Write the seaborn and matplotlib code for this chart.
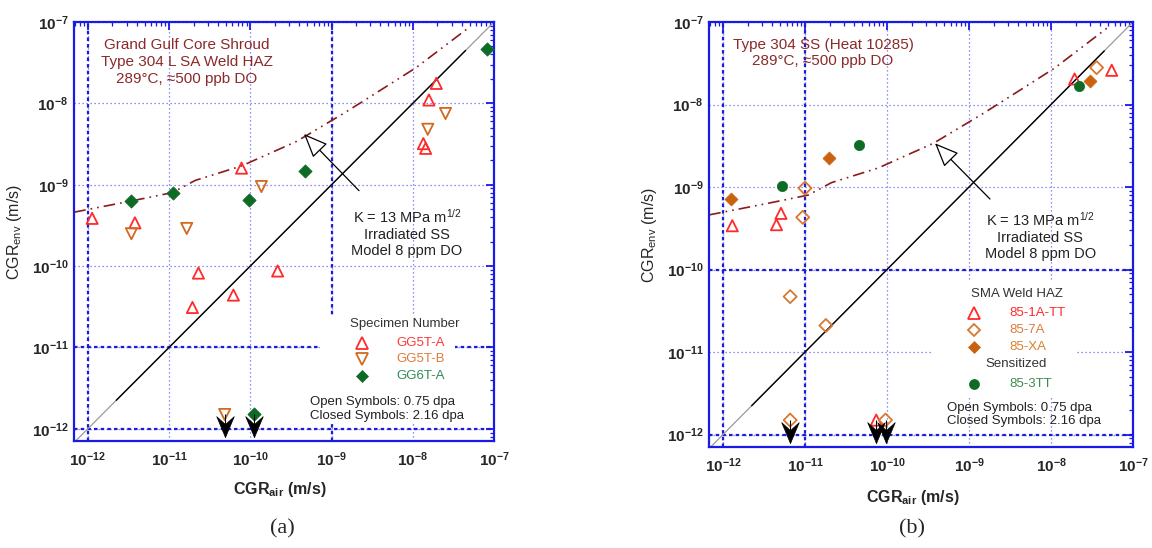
import numpy as np
import matplotlib
matplotlib.use("Agg")
import matplotlib.pyplot as plt
import seaborn as sns
from matplotlib.ticker import LogLocator, NullFormatter
from matplotlib.patches import Rectangle
from matplotlib.path import Path

# ---------------- data ----------------
# Panel (a): Grand Gulf core shroud
a_gg5ta_x = [1.13e-12, 3.8e-12, 7.8e-11, 2.3e-11, 2.17e-10, 1.94e-11, 6.2e-11, 1.95e-8, 1.58e-8, 1.35e-8, 1.44e-8]
a_gg5ta_y = [3.86e-10, 3.4e-10, 1.6e-9, 8.2e-11, 8.7e-11, 3.1e-11, 4.4e-11, 1.76e-8, 1.1e-8, 3.2e-9, 2.8e-9]
a_gg5tb_x = [3.44e-12, 1.65e-11, 1.37e-10, 1.53e-8, 2.53e-8, 4.84e-11]
a_gg5tb_y = [2.5e-10, 2.9e-10, 9.5e-10, 4.8e-9, 7.5e-9, 1.5e-12]
a_gg6ta_x = [3.44e-12, 1.12e-11, 9.55e-11, 4.77e-10, 8.1e-8, 1.1e-10]
a_gg6ta_y = [6.25e-10, 8.0e-10, 6.45e-10, 1.46e-9, 4.7e-8, 1.5e-12]

# Panel (b): Type 304 SS (Heat 10285)
b_1a_x = [1.3e-12, 5.1e-12, 4.5e-12, 1.94e-8, 5.5e-8, 7.4e-11]
b_1a_y = [3.4e-10, 4.8e-10, 3.5e-10, 2.04e-8, 2.6e-8, 1.5e-12]
b_7a_x = [1.0e-11, 9.4e-12, 3.6e-8, 6.6e-12, 1.8e-11, 6.6e-12, 9.6e-11]
b_7a_y = [9.7e-10, 4.3e-10, 2.8e-8, 4.7e-11, 2.1e-11, 1.5e-12, 1.5e-12]
b_xa_x = [1.24e-12, 1.98e-11, 3.0e-8]
b_xa_y = [7.1e-10, 2.24e-9, 1.93e-8]
b_3tt_x = [5.3e-12, 4.6e-11, 2.2e-8]
b_3tt_y = [1.03e-9, 3.2e-9, 1.68e-8]

# Model curve: K = 13 MPa m^1/2, irradiated SS, 8 ppm DO
model_x = [6.8e-13, 3.4e-12, 1.1e-11, 2.1e-11, 7.8e-11, 3.7e-10, 1.4e-9, 2.4e-9, 1.1e-8, 5.1e-8]
model_y = [4.6e-10, 6.3e-10, 8.0e-10, 1.13e-9, 1.7e-9, 3.4e-9, 7.5e-9, 1.05e-8, 2.75e-8, 8.8e-8]

decades = [1e-12, 1e-11, 1e-10, 1e-9, 1e-8, 1e-7]
decade_labels = [r"$\mathbf{10^{-12}}$", r"$\mathbf{10^{-11}}$", r"$\mathbf{10^{-10}}$",
                 r"$\mathbf{10^{-9}}$", r"$\mathbf{10^{-8}}$", r"$\mathbf{10^{-7}}$"]

# ---------------- style ----------------
sns.set_style("white")
plt.rcParams["font.family"] = ["Liberation Sans", "DejaVu Sans"]
plt.rcParams["mathtext.fontset"] = "custom"
plt.rcParams["mathtext.rm"] = "Liberation Sans"
plt.rcParams["mathtext.it"] = "Liberation Sans:italic"
plt.rcParams["mathtext.bf"] = "Liberation Sans:bold"

RED = "#ff2a2a"
ORANGE = "#d2691e"
ORANGE2 = "#d8782e"
ORANGE_F = "#c8620e"
GREEN = "#0e6b26"
TITLE_C = "#8b2a2a"
CURVE_C = "#8b1a1a"
BLUE = "#1a1ae6"
GRID_C = "#6a6af2"
GRID_THICK = "#1c1cd8"

fig = plt.figure(figsize=(11.52, 5.48), dpi=100)
axA = fig.add_axes([74 / 1152, 1 - 441 / 548, 420 / 1152, 419 / 548])
axB = fig.add_axes([709 / 1152, 1 - 447 / 548, 424 / 1152, 425 / 548])

XLO, XHI = 10 ** -12.17, 1e-7
YLO, YHI = 10 ** -12.15, 1e-7


def setup_axes(ax, thick_x, thick_y):
    ax.set_xscale("log")
    ax.set_yscale("log")
    ax.set_xlim(XLO, XHI)
    ax.set_ylim(YLO, YHI)
    ax.set_xticks(decades)
    ax.set_xticklabels(decade_labels, fontsize=11)
    ax.set_yticks(decades)
    ax.set_yticklabels(decade_labels, fontsize=11)
    ax.xaxis.set_minor_locator(LogLocator(base=10, subs=np.arange(2, 10), numticks=30))
    ax.yaxis.set_minor_locator(LogLocator(base=10, subs=np.arange(2, 10), numticks=30))
    ax.xaxis.set_minor_formatter(NullFormatter())
    ax.yaxis.set_minor_formatter(NullFormatter())
    ax.tick_params(which="both", direction="in", top=True, right=True, color=BLUE)
    ax.tick_params(which="major", length=6, width=1.3)
    ax.tick_params(which="minor", length=3, width=0.9)
    ax.tick_params(axis="x", which="major", pad=7)
    ax.tick_params(axis="y", which="major", pad=4)
    for sp in ax.spines.values():
        sp.set_color(BLUE)
        sp.set_linewidth(1.6)
    ax.grid(True, which="major", ls=(0, (1, 2.2)), color=GRID_C, lw=0.9, zorder=0.5)
    ax.set_axisbelow(True)
    for v in thick_x:
        ax.axvline(v, ls=(0, (1.6, 1.4)), color=GRID_THICK, lw=1.6, zorder=0.6)
    for v in thick_y:
        ax.axhline(v, ls=(0, (1.6, 1.4)), color=GRID_THICK, lw=1.6, zorder=0.6)


setup_axes(axA, [1e-12, 1e-9], [1e-11, 1e-12])
setup_axes(axB, [1e-12, 1e-11], [1e-10, 1e-12])

# white legend backgrounds (interrupt the grid like in the reference)
axA.add_patch(Rectangle((0.586, 0.04), 0.321, 0.26, transform=axA.transAxes,
                        facecolor="white", edgecolor="none", zorder=0.9))
axB.add_patch(Rectangle((0.528, 0.115), 0.34, 0.273, transform=axB.transAxes,
                        facecolor="white", edgecolor="none", zorder=0.9))

# 1:1 line and model curve
diag_full = [XLO, XHI]
diag_dark = [10 ** -11.65, 10 ** -7.35]
for ax in (axA, axB):
    sns.lineplot(x=diag_full, y=diag_full, ax=ax, color="#9a9a9a", lw=0.9, zorder=2)
    sns.lineplot(x=diag_dark, y=diag_dark, ax=ax, color="black", lw=1.0, zorder=2.1)
    sns.lineplot(x=model_x, y=model_y, ax=ax, color=CURVE_C, lw=1.2, sort=False,
                 estimator=None, linestyle=(0, (7, 3, 1, 3, 1, 3)), zorder=2.2)

TIP = 10 ** -12.1
# swept-back arrowhead marker, tip at the origin
HEAD = Path([(0, 0), (-0.42, 1.0), (0, 0.62), (0.42, 1.0), (0, 0)],
            [Path.MOVETO, Path.LINETO, Path.LINETO, Path.LINETO, Path.CLOSEPOLY])


def series(ax, xs, ys, marker, face, edge, s, lw=1.3):
    sns.scatterplot(x=xs, y=ys, ax=ax, marker=marker, s=s, color=edge,
                    facecolors=face, edgecolor=edge, linewidth=lw, zorder=4)
    for x, y in zip(xs, ys):
        if y < 2e-12:
            ax.vlines(x, TIP, y, color="black", lw=0.8, zorder=5)
            ax.plot([x], [TIP], marker=HEAD, ms=30, mfc="black", mec="black", mew=0.5,
                    ls="none", zorder=5, clip_on=False)


series(axA, a_gg5ta_x, a_gg5ta_y, "^", "none", RED, 65)
series(axA, a_gg5tb_x, a_gg5tb_y, "v", "none", ORANGE, 65)
series(axA, a_gg6ta_x, a_gg6ta_y, "D", GREEN, GREEN, 46, lw=0.5)

series(axB, b_1a_x, b_1a_y, "^", "none", RED, 65)
series(axB, b_7a_x, b_7a_y, "D", "none", ORANGE2, 44)
series(axB, b_xa_x, b_xa_y, "D", ORANGE_F, ORANGE_F, 44, lw=0.5)
series(axB, b_3tt_x, b_3tt_y, "o", GREEN, GREEN, 55, lw=0.5)

# ---------------- texts ----------------
axA.text(0.269, 0.9045, "Grand Gulf Core Shroud\nType 304 L SA Weld HAZ\n289°C, ≈500 ppb DO",
         transform=axA.transAxes, ha="center", va="center", fontsize=11, color=TITLE_C,
         linespacing=1.25)
axB.text(0.269, 0.927, "Type 304 SS (Heat 10285)\n289°C, ≈500 ppb DO",
         transform=axB.transAxes, ha="center", va="center", fontsize=11, color=TITLE_C,
         linespacing=1.25)

ktext = "K = 13 MPa m$^{1/2}$\nIrradiated SS\nModel 8 ppm DO"
axA.text(0.793, 0.496, ktext, transform=axA.transAxes, ha="center", va="center",
         fontsize=10.5, color="#222222", linespacing=1.2)
axB.text(0.781, 0.4965, ktext, transform=axB.transAxes, ha="center", va="center",
         fontsize=10.5, color="#222222", linespacing=1.2)

open_arrow = dict(arrowstyle="-|>,head_length=1.0,head_width=0.42", mutation_scale=15,
                  fc="white", ec="black", lw=0.9, shrinkA=0, shrinkB=0)
axA.annotate("", xy=(0.5476, 0.7327), xytext=(0.6786, 0.5974), xycoords="axes fraction",
             textcoords="axes fraction", arrowprops=open_arrow, zorder=6)
axB.annotate("", xy=(0.533, 0.7146), xytext=(0.6627, 0.5835), xycoords="axes fraction",
             textcoords="axes fraction", arrowprops=open_arrow, zorder=6)


def key(ax, fx, fy, marker, face, edge, ms, mew=1.3):
    ax.plot([fx], [fy], transform=ax.transAxes, marker=marker, ms=ms, mfc=face, mec=edge,
            mew=mew, ls="none", clip_on=False, zorder=6)


LEG_FS = 9.5
# legend (a)
axA.text(0.788, 0.279, "Specimen Number", transform=axA.transAxes, ha="center", va="center",
         fontsize=LEG_FS, color="#333333")
rowsA = [(0.2346, "^", "none", RED, 8, 1.3, "GG5T-A", "#ff3535"),
         (0.1952, "v", "none", ORANGE, 8, 1.3, "GG5T-B", "#e07a3a"),
         (0.1551, "D", GREEN, GREEN, 6.4, 0.5, "GG6T-A", "#2e8b57")]
for fy, m, fc, ec, ms, mew, lab, tc in rowsA:
    key(axA, 0.686, fy, m, fc, ec, ms, mew)
    axA.text(0.767, fy, lab, transform=axA.transAxes, ha="left", va="center",
             fontsize=LEG_FS, color=tc)
axA.text(0.562, 0.0766, "Open Symbols: 0.75 dpa\nClosed Symbols: 2.16 dpa",
         transform=axA.transAxes, ha="left", va="center", fontsize=LEG_FS, color="#222222",
         linespacing=1.2)

# legend (b)
axB.text(0.726, 0.36, "SMA Weld HAZ", transform=axB.transAxes, ha="center", va="center",
         fontsize=LEG_FS, color="#333333")
rowsB = [(0.316, "^", "none", RED, 8, 1.3, "85-1A-TT", "#ff2a2a"),
         (0.2753, "D", "none", ORANGE2, 6.2, 1.3, "85-7A", "#e07a3a"),
         (0.236, "D", ORANGE_F, ORANGE_F, 6.4, 0.5, "85-XA", "#d9822b")]
for fy, m, fc, ec, ms, mew, lab, tc in rowsB:
    key(axB, 0.625, fy, m, fc, ec, ms, mew)
    axB.text(0.7075, fy, lab, transform=axB.transAxes, ha="left", va="center",
             fontsize=LEG_FS, color=tc)
axB.text(0.724, 0.1946, "Sensitized", transform=axB.transAxes, ha="center", va="center",
         fontsize=LEG_FS, color="#333333")
key(axB, 0.625, 0.148, "o", GREEN, GREEN, 7.2, 0.5)
axB.text(0.7075, 0.148, "85-3TT", transform=axB.transAxes, ha="left", va="center",
         fontsize=LEG_FS, color="#3c8c50")
axB.text(0.5606, 0.0765, "Open Symbols: 0.75 dpa\nClosed Symbols: 2.16 dpa",
         transform=axB.transAxes, ha="left", va="center", fontsize=LEG_FS, color="#222222",
         linespacing=1.2)

# axis labels
for ax, xc, yc in ((axA, (0.49, -0.093), (-0.119, 0.5)), (axB, (0.481, -0.096), (-0.118, 0.5))):
    ax.set_xlabel(r"CGR$_{\mathbf{air}}$ (m/s)", fontsize=11.5, fontweight="bold")
    ax.set_ylabel(r"CGR$_{\mathrm{env}}$ (m/s)", fontsize=11.5)
    ax.xaxis.set_label_coords(*xc)
    ax.yaxis.set_label_coords(*yc)

fig.text(282 / 1152, 1 - 529 / 548, "(a)", ha="center", va="center", fontsize=16,
         family=["Liberation Serif", "DejaVu Serif"])
fig.text(912 / 1152, 1 - 529 / 548, "(b)", ha="center", va="center", fontsize=16,
         family=["Liberation Serif", "DejaVu Serif"])

fig.savefig("out.png", dpi=100)
